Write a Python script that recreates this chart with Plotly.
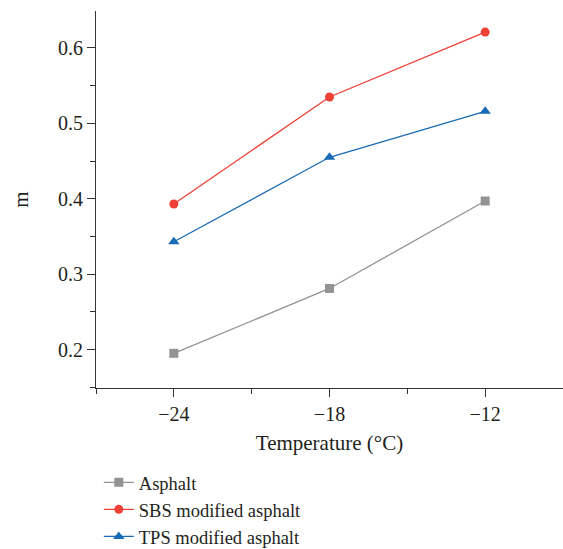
import plotly.graph_objects as go

temps = [-24, -18, -12]
asphalt = [0.195, 0.281, 0.397]
sbs = [0.393, 0.535, 0.621]
tps = [0.343, 0.455, 0.516]
series_names = ["Asphalt", "SBS modified asphalt", "TPS modified asphalt"]

FONT = "Liberation Serif"
TXT = "#231f20"

fig = go.Figure()
fig.add_trace(go.Scatter(x=temps, y=asphalt, name=series_names[0], mode="lines+markers",
                         line=dict(color="#939393", width=1.3),
                         marker=dict(symbol="square", size=9, color="#939393")))
fig.add_trace(go.Scatter(x=temps, y=sbs, name=series_names[1], mode="lines+markers",
                         line=dict(color="#ef4136", width=1.3),
                         marker=dict(symbol="circle", size=9, color="#ef4136")))
fig.add_trace(go.Scatter(x=temps, y=tps, name=series_names[2], mode="lines+markers",
                         line=dict(color="#1a6bb5", width=1.3),
                         marker=dict(symbol="triangle-up", size=10, color="#1a6bb5")))

fig.update_layout(
    width=563, height=549,
    margin=dict(l=96, r=0, t=11, b=161, autoexpand=False),
    paper_bgcolor="white", plot_bgcolor="white",
    font=dict(family=FONT, size=20, color=TXT),
    showlegend=True,
    legend=dict(orientation="v", x=0.006, xanchor="left", y=-0.201, yanchor="top",
                font=dict(family=FONT, size=18.5, color=TXT), tracegroupgap=0,
                itemwidth=30, bgcolor="rgba(0,0,0,0)"),
    xaxis=dict(range=[-27, -9], tickmode="linear", tick0=-24, dtick=6,
               showgrid=False, zeroline=False, showline=True, linecolor="#333",
               linewidth=1.2, ticks="outside", ticklen=8, tickcolor="#333",
               tickfont=dict(family=FONT, size=20, color=TXT),
               tickformat="d", ticklabelstandoff=0, automargin=False,
               minor=dict(ticks="outside", ticklen=5, dtick=3, tick0=-24, tickcolor="#333", showgrid=False),
               title=dict(text="Temperature (°C)", font=dict(family=FONT, size=21, color=TXT), standoff=11)),
    yaxis=dict(range=[0.149, 0.649], tickmode="linear", tick0=0.2, dtick=0.1,
               showgrid=False, zeroline=False, showline=True, linecolor="#333",
               linewidth=1.2, ticks="outside", ticklen=8, tickcolor="#333",
               tickfont=dict(family=FONT, size=20, color=TXT), tickformat=".1f",
               automargin=False,
               minor=dict(ticks="outside", ticklen=5, dtick=0.05, tick0=0.15, tickcolor="#333", showgrid=False),
               title=dict(text="m", font=dict(family=FONT, size=21, color=TXT), standoff=23)),
)

fig.write_html("out.html")
